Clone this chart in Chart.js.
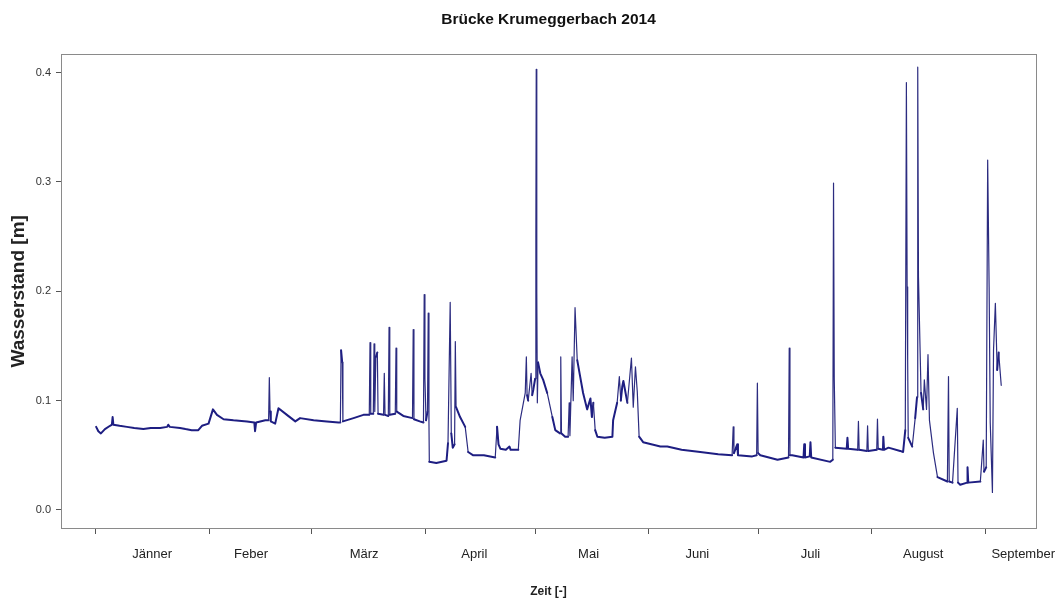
<!DOCTYPE html>
<html>
<head>
<meta charset="utf-8">
<script src="https://cdn.jsdelivr.net/npm/chart.js@4/dist/chart.umd.min.js"></script>
<style>
html,body{margin:0;padding:0;background:#fff;}
#wrap{width:1064px;height:608px;}
</style>
</head>
<body>
<div id="wrap"><canvas id="c" width="1064" height="608"></canvas></div>
<script>
// ---- data ----
const chartTitle = 'Brücke Krumeggerbach 2014';
const yAxisTitle = 'Wasserstand [m]';
const xAxisTitle = 'Zeit [-]';
const monthNames = ['Jänner','Feber','März','April','Mai','Juni','Juli','August','September'];
const monthStartDays = [0,31,59,90,120,151,181,212,243];
const monthLabelDays = [15.4,42.4,73.3,103.4,134.6,164.3,195.2,226.0,253.3];
const yTickValues = [0.0,0.1,0.2,0.3,0.4];

// day of year 2014 (0 = 1 Jan) and water level [m]
const days = [
  0.1,0.7,1.4,2.5,3.9,4.4,4.6,4.8,6.5,8.5,10.5,13.0,15.0,17.6,19.5,19.8,20.2,23.0,24.5,26.2,28.0,29.0,30.8,32.0,33.1,34.9,37.6,41.3,43.3,43.5,43.8,46.3,47.2,47.4,47.6,47.8,49.0,49.9,52.2,54.5,55.8,59.5,63.1,66.3,66.8,67.0,67.3,67.5,70.4,73.1,
  74.7,74.9,75.1,75.8,76.0,76.2,76.5,76.9,77.1,78.6,78.8,79.0,79.9,80.1,80.3,81.8,82.0,82.2,84.0,86.5,86.7,86.9,88.5,89.5,89.7,89.9,90.2,90.6,90.8,91.0,91.1,93.0,95.8,96.2,96.8,97.1,97.5,98.0,98.2,98.4,99.5,100.9,101.7,103.1,106.0,109.1,109.6,110.0,110.5,112.0,113.0,113.3,115.4,115.9,
  117.3,117.6,117.8,118.1,118.9,119.2,119.5,120.0,120.2,120.3,120.45,120.6,120.8,121.4,122.2,123.3,124.7,125.5,126.8,127.0,127.2,128.2,129.0,129.3,129.5,130.1,130.4,130.9,131.5,132.3,133.1,134.2,135.1,135.5,135.9,136.4,137.0,139.0,141.1,141.3,142.4,143.0,143.4,143.8,144.1,145.2,146.3,146.8,147.4,147.9,148.4,149.5,154.2,156.1,160.0,165.1,170.0,
  173.8,174.1,174.3,175.2,175.4,179.3,180.5,180.7,180.9,181.5,186.2,189.2,189.4,189.6,190.2,193.3,193.5,193.7,195.0,195.2,195.4,200.6,201.3,201.5,201.7,202.0,205.1,205.3,205.5,208.1,208.3,208.5,210.6,210.8,211.0,213.3,213.5,213.7,215.0,215.1,215.3,216.5,219.7,220.5,
  221.1,221.4,221.6,221.75,221.9,223.0,223.8,224.3,224.5,224.7,225.4,226.0,226.3,226.9,227.3,227.7,228.8,229.9,232.6,232.9,233.1,234.0,235.3,235.5,236.1,238.0,238.1,238.3,241.6,242.4,242.6,243.2,243.6,244.0,244.3,244.9,245.2,245.7,246.2,246.6,247.3
];
const levels = [
  0.076,0.072,0.070,0.074,0.077,0.078,0.085,0.078,0.077,0.076,0.075,0.074,0.075,0.075,0.076,0.078,0.076,0.075,0.074,0.073,0.073,0.077,0.079,0.092,0.087,0.083,0.082,0.081,0.080,0.072,0.080,0.082,0.082,0.121,0.090,0.081,0.079,0.093,0.087,0.081,0.084,0.082,0.081,0.080,0.080,0.146,0.135,0.081,0.084,0.087,
  0.087,0.153,0.088,0.088,0.152,0.090,0.140,0.144,0.088,0.087,0.125,0.087,0.086,0.167,0.087,0.088,0.148,0.090,0.086,0.084,0.165,0.083,0.081,0.080,0.197,0.120,0.082,0.090,0.180,0.080,0.044,0.043,0.045,0.061,0.190,0.070,0.057,0.060,0.154,0.094,0.085,0.076,0.053,0.050,0.050,0.048,0.076,0.060,0.056,0.055,0.058,0.055,0.055,0.082,
  0.107,0.140,0.105,0.100,0.125,0.105,0.110,0.120,0.250,0.403,0.200,0.098,0.135,0.125,0.119,0.107,0.085,0.073,0.070,0.140,0.070,0.067,0.067,0.098,0.068,0.140,0.100,0.185,0.137,0.122,0.107,0.092,0.102,0.085,0.098,0.073,0.067,0.066,0.067,0.082,0.098,0.122,0.100,0.113,0.118,0.098,0.139,0.094,0.131,0.108,0.067,0.062,0.058,0.058,0.055,0.053,0.051,
  0.050,0.076,0.052,0.060,0.050,0.049,0.050,0.116,0.052,0.050,0.046,0.048,0.148,0.050,0.050,0.048,0.060,0.048,0.049,0.062,0.048,0.044,0.046,0.299,0.119,0.057,0.056,0.066,0.056,0.055,0.081,0.055,0.054,0.077,0.054,0.055,0.083,0.056,0.055,0.067,0.055,0.057,0.054,0.053,
  0.073,0.391,0.204,0.137,0.066,0.058,0.084,0.103,0.405,0.213,0.107,0.092,0.119,0.092,0.142,0.082,0.052,0.030,0.026,0.122,0.026,0.025,0.093,0.025,0.023,0.025,0.039,0.025,0.026,0.064,0.035,0.039,0.320,0.204,0.080,0.016,0.146,0.189,0.128,0.144,0.114
];

// ---- chart ----
const FONT = "'Liberation Sans',Arial,Helvetica,sans-serif";
const points = days.map((d, i) => ({x: d, y: levels[i]}));
const steep = (ctx) => Math.abs(ctx.p1.parsed.y - ctx.p0.parsed.y) > 0.02;

new Chart(document.getElementById('c'), {
  type: 'line',
  data: {
    datasets: [{
      data: points,
      borderColor: '#1e1e82',
      borderWidth: 2,
      borderJoinStyle: 'round',
      borderCapStyle: 'round',
      pointRadius: 0,
      tension: 0,
      fill: false,
      segment: {
        borderWidth: (ctx) => steep(ctx) ? 1.2 : 2,
        borderColor: (ctx) => steep(ctx) ? '#2c2c80' : '#1e1e82'
      }
    }]
  },
  options: {
    responsive: false,
    animation: false,
    devicePixelRatio: 1,
    layout: {padding: {left: 0, right: 28, top: 0, bottom: 0}},
    plugins: {
      legend: {display: false},
      tooltip: {enabled: false},
      title: {
        display: true,
        text: chartTitle,
        fullSize: false,
        color: '#111',
        font: {family: FONT, size: 15.5, weight: 'bold'},
        padding: {top: 10, bottom: 26}
      }
    },
    scales: {
      x: {
        type: 'linear',
        position: 'bottom',
        min: -9.5,
        max: 256.8,
        afterBuildTicks: (axis) => {
          const vals = monthStartDays.concat(monthLabelDays).sort((a, b) => a - b);
          axis.ticks = vals.map(v => ({value: v}));
        },
        afterFit: (s) => { s.height = 80; s.paddingLeft = 0; s.paddingRight = 0; },
        ticks: {
          autoSkip: false,
          maxRotation: 0,
          minRotation: 0,
          padding: 13,
          color: '#222',
          font: {family: FONT, size: 13},
          callback: (v) => {
            const i = monthLabelDays.indexOf(v);
            return i >= 0 ? monthNames[i] : '';
          }
        },
        grid: {
          drawOnChartArea: false,
          drawTicks: true,
          tickLength: 6,
          tickColor: (ctx) => (ctx.tick && monthStartDays.indexOf(ctx.tick.value) >= 0) ? '#555' : 'rgba(0,0,0,0)'
        },
        border: {display: true, color: '#8a8a8a', width: 1},
        title: {
          display: true,
          text: xAxisTitle,
          color: '#222',
          font: {family: FONT, size: 12, weight: 'bold'},
          padding: {top: 0, bottom: 9}
        }
      },
      y: {
        type: 'linear',
        position: 'left',
        min: -0.0165,
        max: 0.4165,
        afterBuildTicks: (axis) => { axis.ticks = yTickValues.map(v => ({value: v})); },
        afterFit: (s) => { s.width = 61; s.paddingTop = 0; s.paddingBottom = 0; },
        ticks: {
          padding: 5,
          color: '#333',
          font: {family: FONT, size: 11},
          callback: (v) => Number(v).toFixed(1)
        },
        grid: {drawOnChartArea: false, drawTicks: true, tickLength: 5, tickColor: '#555'},
        border: {display: true, color: '#8a8a8a', width: 1},
        title: {
          display: true,
          text: yAxisTitle,
          color: '#222',
          font: {family: FONT, size: 19, weight: 'bold'},
          padding: {top: 7, bottom: 0}
        }
      },
      xTop: {
        type: 'linear',
        position: 'top',
        min: -9.5,
        max: 256.8,
        afterFit: (s) => { s.height = 0; },
        ticks: {display: false},
        grid: {display: false, drawTicks: false},
        border: {display: true, color: '#8a8a8a', width: 1}
      },
      yRight: {
        type: 'linear',
        position: 'right',
        min: -0.0165,
        max: 0.4165,
        afterFit: (s) => { s.width = 0; },
        ticks: {display: false},
        grid: {display: false, drawTicks: false},
        border: {display: true, color: '#8a8a8a', width: 1}
      }
    }
  }
});
</script>
</body>
</html>
